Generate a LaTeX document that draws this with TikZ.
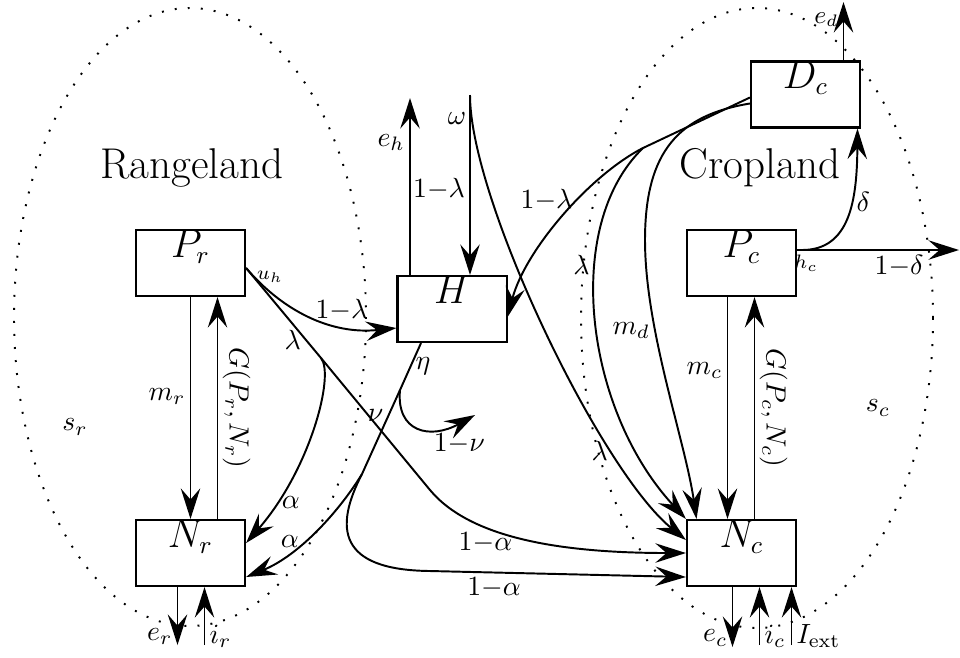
\documentclass[tikz,border=0pt]{standalone}
\usetikzlibrary{arrows.meta,calc}

\begin{document}
\begin{tikzpicture}[x=0.1265mm, y=-0.1265mm, line width=0.7pt, inner sep=1.5pt,
        >={Stealth[length=11pt, width=7pt, inset=4pt]},
        caixa/.style={draw, line width=0.75pt, minimum width=13.8mm, minimum height=8.35mm,
            inner sep=0pt, text height=8.5pt, text depth=12.5pt, font=\fontsize{13.5}{16}\selectfont},
        zona/.style={loosely dotted, line width=0.7pt}]
        \useasboundingbox (0,0) rectangle (960,657);

        \draw[zona] (190,317) ellipse [x radius=176, y radius=309];
        \draw[zona] (757,318) ellipse [x radius=176, y radius=310];

        \node[font=\fontsize{15.5}{18}\selectfont] (R) at (192,168) {Rangeland};
        \node[font=\fontsize{15.5}{18}\selectfont] (C) at (760,168) {Cropland};
        \node (sr) at (75,427) {$s_r$};
        \node (sc) at (878,408) {$s_c$};

        \node[caixa] (Pr) at (190.5,263) {$P_r$};
        \node[caixa] (Nr) at (190.5,553) {$N_r$};
        \node[caixa] (H) at (452,309) {$H$};
        \node[caixa] (Pc) at (741.5,263) {$P_c$};
        \node[caixa] (Nc) at (741.5,553) {$N_c$};
        \node[caixa] (Dc) at (805.5,94.5) {$D_c$};

        \coordinate (om) at (470,95);
        \coordinate (eh) at (410,98);
        \coordinate (ed) at (843.5,2);
        \coordinate (er) at (177.5,645);
        \coordinate (ir) at (204.5,645);
        \coordinate (ec) at (732.5,647);
        \coordinate (ic) at (759.5,645);
        \coordinate (ie) at (791.5,645);
        \coordinate (up) at ($(Pr.east)+(0,5)$);
        \coordinate (lb) at (321,358);
        \coordinate (lk) at (430,490);
        \coordinate (nb) at (400,390);
        \coordinate (ab) at (362,474);
        \coordinate (nu) at (475,415);
        \coordinate (db) at (643,148);
        \coordinate (hc) at ($(Pc.east)+(0,-13)$);
        \coordinate (fora) at (959,250);

        \node (omega) at (457,119) {$\omega$};
        \node[font=\scriptsize] (uh) at (270,277) {$u_h$};
        \node[font=\scriptsize] (hcl) at (806,263) {$h_c$};

        % rangeland
        \draw[->] (Pr.south) -- node[left, pos=0.45] (mr) {$m_r$} (Nr.north);
        \draw[->] ($(Nr.north)+(27,0)$) -- node[rotate=-90, anchor=south] (gr) {$G(P_r,N_r)$} ($(Pr.south)+(27,0)$);
        \draw[->] ($(Nr.south)+(-13,0)$) -- node[left, pos=0.85] (ler) {$e_r$} (er);
        \draw[->] (ir) -- node[right, pos=0.15] (lir) {$i_r$} ($(Nr.south)+(14,0)$);
        \draw[->] (up) .. controls (282,310) and (330,335) .. node[above, pos=0.7] (l1) {$1{-}\lambda$} ($(H.west)+(0,19)$);
        \draw[->] (up) -- node[left, pos=0.8] (l2) {$\lambda$} (lb) -- (lk) .. controls (470,538) and (560,553) .. node[below, pos=0.33] (l3) {$1{-}\alpha$} (Nc.west);
        \draw[->] (lb) .. controls (335,375) and (310,470) .. node[right, pos=0.82] (l4) {$\alpha$} ($(Nr.east)+(0,-10)$);

        % herd
        \draw[->] ($(H.north)+(-42,0)$) -- node[left, pos=0.75] (leh) {$e_h$} (eh);
        \draw[->] (om) -- node[left, pos=0.52] (l5) {$1{-}\lambda$} ($(H.north)+(18,0)$);
        \draw[->] (om) .. controls (470,200) and (600,470) .. node[left, pos=0.74] (l6) {$\lambda$} ($(Nc.west)+(0,-13)$);
        \draw ($(H.south)+(-31,0)$) -- node[right, pos=0.5] (l7) {$\eta$} (nb) -- node[left, pos=0.3] (l8) {$\nu$} (ab);
        \draw[->] (nb) .. controls (396,432) and (430,440) .. node[below=2pt, pos=0.88] (l9) {$1{-}\nu$} (nu);
        \draw[->] (ab) .. controls (340,510) and (300,555) .. node[left, pos=0.6] (l10) {$\alpha$} ($(Nr.east)+(0,24)$);
        \draw[->] (ab) .. controls (334,528) and (338,570) .. (430,571) -- node[below, pos=0.25] (l11) {$1{-}\alpha$} ($(Nc.west)+(0,24)$);

        % cropland
        \draw[->] ($(Pc.south)+(-14,0)$) -- node[left, pos=0.33] (mc) {$m_c$} ($(Nc.north)+(-14,0)$);
        \draw[->] ($(Nc.north)+(13,0)$) -- node[rotate=-90, anchor=south] (gc) {$G(P_c,N_c)$} ($(Pc.south)+(13,0)$);
        \draw[->] ($(Nc.south)+(-9,0)$) -- node[left, pos=0.85] (lec) {$e_c$} (ec);
        \draw[->] (ic) -- node[right, pos=0.15] (lic) {$i_c$} ($(Nc.south)+(18,0)$);
        \draw[->] (ie) -- node[right, pos=0.15] (lie) {$I_{\mathrm{ext}}$} ($(Nc.south)+(50,0)$);
        \draw[->] (hc) -- node[below, pos=0.63] (l12) {$1{-}\delta$} (fora);
        \draw[->] ($(hc)+(5,0)$) .. controls (850,250) and (857,200) .. node[right, pos=0.6] (l13) {$\delta$} ($(Dc.south)+(52,0)$);
        \draw[->] ($(Dc.north)+(38,0)$) -- node[left, pos=0.7, font=\small] (led) {$e_d$} (ed);
        \draw[->] ($(Dc.west)+(0,3)$) -- (db) .. controls (590,175) and (525,250) .. node[left, pos=0.4] (l14) {$1{-}\lambda$} ($(H.east)+(0,8)$);
        \draw[->] (db) .. controls (562,226) and (585,410) .. node[left, pos=0.36] (l15) {$\lambda$} (Nc.north west);
        \draw[->] ($(Dc.west)+(0,9)$) .. controls (680,115) and (645,150) .. (645,240) .. controls (645,330) and (685,440) .. node[left, pos=0.32] (md) {$m_d$} ($(Nc.north)+(-45,0)$);
\end{tikzpicture}
\end{document}
